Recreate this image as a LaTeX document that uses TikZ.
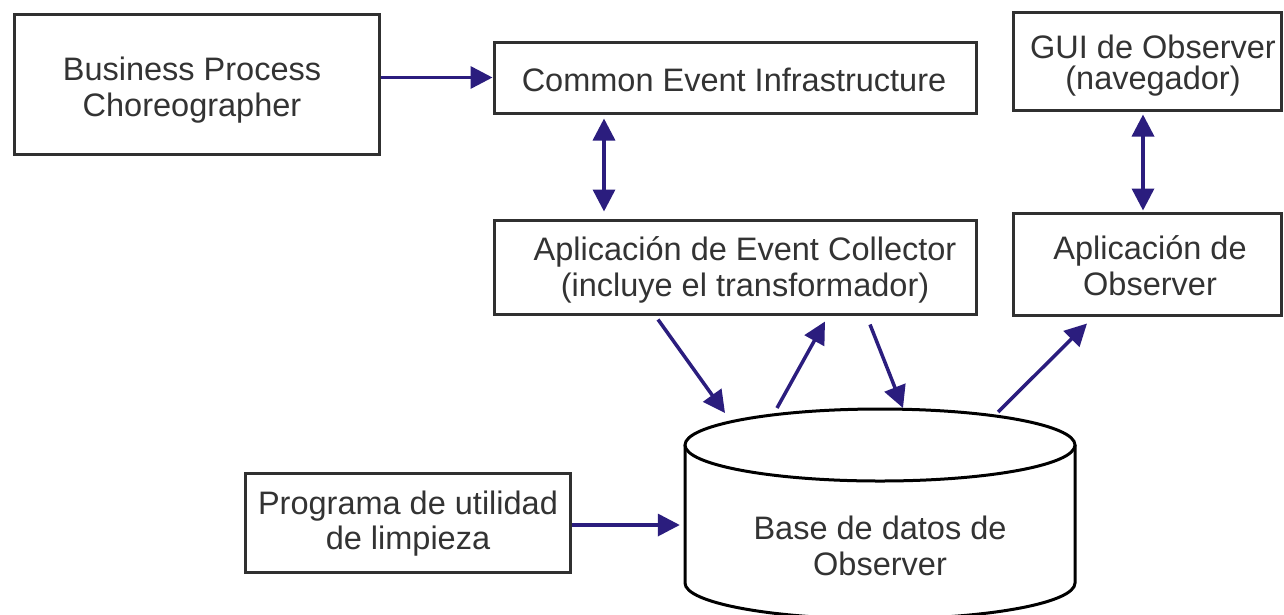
\documentclass[tikz,border=0pt]{standalone}
\usepackage{fontspec}
\setmainfont{Liberation Sans}
\usetikzlibrary{arrows.meta}
\definecolor{navy}{HTML}{2B1D7E}
\definecolor{boxgray}{HTML}{303030}
\definecolor{txtgray}{HTML}{333333}
\begin{document}
\begin{tikzpicture}[x=1pt,y=-1pt,
  box/.style={draw=boxgray, line width=3pt, fill=white, inner sep=0pt},
  lbl/.style={align=center, inner sep=0pt, text=txtgray, font=\fontsize{32.5}{36}\selectfont},
  tip/.style={},
  arr/.style={draw=navy, line width=3.5pt, -{Triangle[length=22pt,width=22pt]}},
  darr/.style={draw=navy, line width=3.5pt, {Triangle[length=22pt,width=22pt]}-{Triangle[length=22pt,width=22pt]}}]
\useasboundingbox[fill=white] (0,0) rectangle (1284,614);

% boxes
\node[box, minimum width=365pt, minimum height=140pt] (bpc) at (196.5,84) {};
\node[box, minimum width=482pt, minimum height=71pt] (cei) at (735,77.5) {};
\node[box, minimum width=482pt, minimum height=94pt] (ec) at (735,267) {};
\node[box, minimum width=268pt, minimum height=98pt] (gui) at (1147,61) {};
\node[box, minimum width=268pt, minimum height=102pt] (obs) at (1147,264) {};
\node[box, minimum width=325pt, minimum height=99pt] (clean) at (407.5,522.5) {};
\node[inner sep=0pt, minimum width=390pt, minimum height=210pt] (db) at (880,514) {};

% cylinder
\draw[line width=3pt, black, fill=white]
  (685,445) -- (685,583) arc[start angle=180, end angle=360, x radius=195, y radius=-36] -- (1075,445);
\draw[line width=3pt, black, fill=white] (880,445) ellipse[x radius=195, y radius=36];

% labels
\node[lbl] (tbpc) at (192,90) {Business Process\\Choreographer};
\node[lbl] (tcei) at (734,80) {Common Event Infrastructure};
\node[lbl] (tec) at (745,270) {Aplicación de Event Collector\\(incluye el transformador)};
\node[lbl, font=\fontsize{32.5}{31}\selectfont] (tgui) at (1153,66) {GUI de Observer\\(navegador)};
\node[lbl] (tobs) at (1150,266) {Aplicación de\\Observer};
\node[lbl, font=\fontsize{32.5}{35}\selectfont] (tclean) at (408,524) {Programa de utilidad\\de limpieza};
\node[lbl] (tdb) at (880,546) {Base de datos de\\Observer};

% connector end points on the database
\coordinate (t1) at (725,413);
\coordinate (s2) at (777,408);
\coordinate (t3) at (903,408);
\coordinate (s4) at (998,412);

% connectors
\draw[arr] (bpc.east |- cei.west) -- (cei.west);
\draw[darr, shorten <=4pt, shorten >=7pt] ([xshift=-131pt]cei.south) -- ([xshift=-131pt]ec.north);
\draw[darr, shorten <=3pt, shorten >=1pt] ([xshift=-4pt]gui.south) -- ([xshift=-4pt]obs.north);
\draw[arr, shorten >=5pt] (clean.east |- 0,525) -- (db.west |- 0,525);
\draw[arr] ([xshift=-77pt,yshift=-4pt]ec.south) -- (t1);
\draw[arr] (s2) -- ([xshift=90pt,yshift=-6pt]ec.south);
\draw[arr] ([xshift=135pt,yshift=-9pt]ec.south) -- (t3);
\draw[arr] (s4) -- ([xshift=-60pt,yshift=-7pt]obs.south);
\end{tikzpicture}
\end{document}
